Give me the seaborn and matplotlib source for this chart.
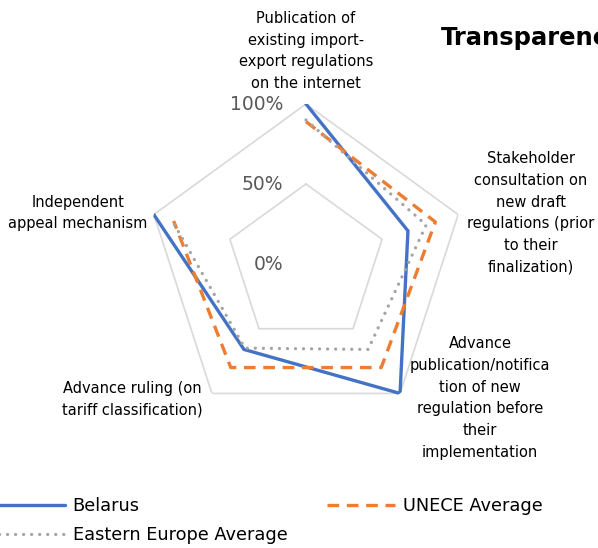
import numpy as np
import pandas as pd
import matplotlib
matplotlib.use("Agg")
import matplotlib.pyplot as plt
import seaborn as sns

# ===== Data ======================================
categories = [
    "Publication of\nexisting import-\nexport regulations\non the internet",
    "Stakeholder\nconsultation on\nnew draft\nregulations (prior\nto their\nfinalization)",
    "Advance\npublication/notifica\ntion of new\nregulation before\ntheir\nimplementation",
    "Advance ruling (on\ntariff classification)",
    "Independent\nappeal mechanism",
]
belarus = [1.00, 0.67, 1.00, 0.66, 1.00]
unece_avg = [0.89, 0.85, 0.80, 0.80, 0.87]
eastern_europe_avg = [0.90, 0.79, 0.66, 0.65, 0.88]
r_ticks = [0.0, 0.5, 1.0]
r_tick_labels = ["0%", "50%", "100%"]
title = "Transparency"

sns.set_theme(style="white")
plt.rcParams["font.family"] = ["DejaVu Sans"]

W, H = 598, 548
fig = plt.figure(figsize=(W / 100, H / 100), dpi=100)

# polar axes centred at (306, 264) px, radius 160 px
cx, cy, rad = 306, 264, 160
ax = fig.add_axes([(cx - rad) / W, 1 - (cy + rad) / H, 2 * rad / W, 2 * rad / H],
                  projection="polar")
ax.set_theta_zero_location("N")
ax.set_theta_direction(-1)
ax.set_ylim(0, 1)
ax.grid(False)
ax.spines["polar"].set_visible(False)
ax.set_xticks([])
ax.set_yticks([])
ax.patch.set_alpha(0)

n = len(categories)
angles = np.linspace(0, 2 * np.pi, n, endpoint=False)
ang_closed = np.append(angles, angles[0])

# pentagon gridlines
for rt in r_ticks[1:]:
    ax.plot(ang_closed, [rt] * (n + 1), color="#D9D9D9", lw=1.2, zorder=1)

series = [
    ("Belarus", belarus, "#4472C4", "-", 2.4),
    ("UNECE Average", unece_avg, "#ED7D31", (0, (3.5, 2.3)), 2.4),
    ("Eastern Europe Average", eastern_europe_avg, "#A5A5A5", (0, (0.01, 2.4)), 2.4),
]
handles = {}
for name, vals, col, ls, lw in series:
    df = pd.DataFrame({"theta": ang_closed, "r": np.append(vals, vals[0])})
    sns.lineplot(data=df, x="theta", y="r", ax=ax, sort=False, color=col,
                 linestyle=ls, lw=lw, zorder=3, solid_joinstyle="miter",
                 dash_capstyle="butt" if name == "UNECE Average" else "round")
    handles[name] = ax.lines[-1]
ax.set_xlabel("")
ax.set_ylabel("")

# radial tick labels
for rt, lab in zip(r_ticks, r_tick_labels):
    ax.annotate(lab, xy=(0, rt), xytext=(-23, 0), textcoords="offset pixels",
                ha="right", va="center", fontsize=13.5, color="#595959")

# category labels
label_pos = [(306, 51), (531, 213), (480, 398), (132, 399), (78, 213)]
for lab, (px, py) in zip(categories, label_pos):
    fig.text(px / W, 1 - py / H, lab, ha="center", va="center",
             multialignment="center", fontsize=10.5, color="#000000",
             linespacing=1.55)

fig.text(441 / W, 1 - 38 / H, title, ha="left", va="center",
         fontsize=17.5, fontweight="bold", color="#000000")

order = ["Belarus", "Eastern Europe Average", "UNECE Average"]
leg = fig.legend([handles[k] for k in order], order, loc="upper left",
                 bbox_to_anchor=(-0.005, 1 - 497 / H), ncol=2, frameon=False,
                 fontsize=12.8, handlelength=3.8, handletextpad=0.45,
                 columnspacing=2.25, labelspacing=0.62, borderpad=0,
                 borderaxespad=0)
for t in leg.get_texts():
    t.set_color("#000000")

fig.savefig("out.png", dpi=100, facecolor="white")
